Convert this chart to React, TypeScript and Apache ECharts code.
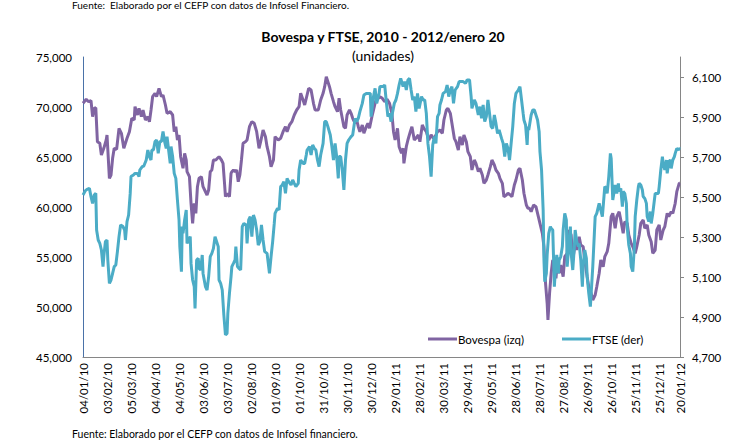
import React, { useEffect, useRef } from "react";
import * as echarts from "echarts";

// Day offsets counted from 04/01/2010
const bovespaDays = [
  0, 4, 7, 10, 12, 14, 16, 18, 21, 23, 26, 29, 30, 33, 35, 37, 39, 42, 45, 48, 51, 55, 58, 61, 64, 65, 68, 70, 73, 75, 78, 81, 83, 85, 87, 90, 92, 95, 98, 100,
  103, 105, 109, 112, 114, 116, 118, 120, 122, 125, 127, 129, 130, 133, 135, 137, 139, 141, 143, 145, 148, 150, 152, 155, 157, 159, 161, 163, 166, 168, 170, 173, 175, 177, 178, 180, 183, 185, 186,
  188, 190, 192, 194, 196, 198, 200, 203, 205, 208, 211, 214, 217, 220, 222, 225, 228, 230, 233, 235, 238, 240, 244, 247, 250, 253, 255, 258, 261, 264, 267, 270, 272, 275, 277, 280, 282, 285, 288,
  290, 294, 297, 300, 302, 304, 306, 308, 310, 313, 315, 318, 320, 322, 324, 326, 328, 330, 333, 335, 337, 340, 342, 344, 346, 349, 351, 354, 356, 358, 361, 364, 366, 369, 371,
  374, 377, 380, 383, 386, 388, 390, 393, 395, 398, 400, 401, 404, 406, 409, 411, 414, 416, 419, 421, 424, 426, 429, 432, 435, 438, 440, 443, 446, 449, 451, 454, 456, 459, 461, 464, 466, 469,
  471, 474, 476, 479, 481, 484, 486, 489, 491, 494, 496, 499, 501, 504, 506, 509, 511, 514, 516, 519, 521, 524, 526, 529, 531, 534, 536, 539, 541, 544, 546, 549, 551, 554, 556,
  558, 560, 563, 566, 569, 571, 574, 576, 578, 580, 581, 583, 585, 587, 589, 591, 593, 595, 597, 600, 602, 605, 607, 610, 612, 615, 617, 620, 622, 625, 627, 630, 632, 635, 637, 640, 642, 645,
  647, 650, 652, 655, 657, 660, 662, 665, 667, 670, 672, 675, 677, 680, 682, 685, 687, 690, 692, 695, 697, 700, 702, 705, 707, 710, 712, 715, 717, 720, 722, 725, 727, 730, 732, 735, 737, 740, 742, 745, 746,
];
const bovespaValues = [
  70370, 70770, 70530, 70630, 69030, 69870, 69930, 66530, 66370, 65200, 65870, 66700, 67200, 62870, 63200, 64870, 65870, 65770, 67870, 67370, 65870, 66870, 67530, 68870, 68700, 70030, 69200, 69870, 69030, 69700, 68700, 69030, 68530, 69700, 71030, 71370, 71030, 71870, 71030, 71200,
  70200, 69370, 69530, 69200, 67530, 68030, 66700, 67200, 65030, 63870, 65370, 64700, 63530, 63030, 60370, 58370, 60370, 59370, 62030, 62870, 63030, 62030, 61700, 61200, 61700, 63530, 63700, 64700, 64700, 64870, 65030, 64700, 64370, 62200, 61030, 61370, 61030, 63370, 63530,
  63700, 63530, 63700, 62530, 63200, 64700, 66370, 66530, 66700, 68030, 68530, 68370, 67530, 65870, 66530, 67700, 67030, 66030, 65030, 64030, 64700, 67030, 66700, 66870, 67530, 68030, 67530, 68200, 68530, 69200, 69700, 70030, 71370, 70700, 70200, 71200, 71870, 71700, 70370,
  69700, 69700, 70700, 71370, 72030, 73030, 72530, 72030, 71370, 70530, 70030, 69530, 70870, 69700, 68870, 68030, 67870, 69200, 69700, 69370, 68870, 68370, 68700, 68030, 67530, 68200, 67370, 68030, 68370, 67870, 69030, 70030, 70700, 70870, 71030,
  70870, 70530, 70770, 70370, 69370, 67530, 66700, 67870, 66030, 65370, 65870, 64370, 66030, 66700, 67530, 68030, 66700, 66870, 67200, 66530, 68200, 67870, 67530, 66700, 67200, 66870, 67030, 67530, 67700, 67370, 68700, 69700, 69870, 69370, 68370, 66870, 66530, 65700,
  67030, 66200, 67200, 66530, 65530, 65030, 63700, 64700, 64370, 63530, 63870, 63200, 62370, 62700, 63200, 64030, 64700, 64200, 63700, 63370, 62870, 62370, 61030, 61200, 61370, 61200, 61030, 62200, 62700, 63700, 63870, 62700, 61370, 60200, 59870,
  59870, 59530, 60200, 60030, 59030, 58370, 57370, 56030, 52370, 50370, 48700, 51370, 53370, 54700, 53700, 52870, 54700, 53370, 54200, 53030, 55030, 55370, 57700, 57200, 54700, 56370, 55700, 57030, 56200, 56030, 54700, 53030, 52030, 51370, 50700, 51200, 52030, 53370,
  54700, 54030, 55030, 55530, 56370, 59030, 59370, 57870, 59030, 59530, 58700, 57370, 58530, 58370, 57200, 56370, 56030, 55370, 56030, 57200, 58370, 58700, 57870, 58200, 57200, 56530, 55370, 55700, 57700, 58200, 56700, 57700, 58030, 59370, 59030, 59530, 59370, 60370, 61530, 62370, 62400,
];

const ftseDays = [
  0, 3, 5, 8, 10, 12, 14, 16, 17, 19, 21, 23, 25, 26, 28, 30, 31, 33, 35, 37, 39, 41, 43, 45, 47, 50, 52, 53, 55, 57, 59, 60, 63, 65, 68, 70, 71, 74, 76, 79, 81, 83, 85, 86, 88, 90, 92, 94, 96, 98,
  100, 102, 104, 105, 107, 109, 110, 112, 114, 116, 118, 120, 121, 123, 124, 125, 127, 129, 130, 132, 134, 135, 137, 139, 140, 142, 144, 145, 147, 149, 150, 153, 155, 157, 159, 161, 163, 165, 167, 169,
  170, 172, 174, 176, 178, 180, 181, 183, 185, 186,
  188, 190, 191, 193, 195, 197, 199, 201, 204, 205, 207, 209, 211, 213, 215, 217, 219, 221, 223, 225, 227, 230, 232, 233, 235, 237, 239, 240, 243, 245, 247, 249, 251, 253, 255, 257, 260, 262, 264, 266,
  269, 270, 272, 275, 277, 279, 280, 283, 285, 287, 289, 291, 293, 295, 297, 300, 302, 304, 306, 309, 311, 313, 315, 317, 319, 320, 322, 324, 326, 328, 330, 332, 335, 337, 340, 342, 344, 346, 349, 351,
  354, 356, 359, 360, 363, 365, 367, 370, 371,
  375, 377, 379, 381, 383, 385, 387, 389, 391, 393, 395, 397, 400, 402, 404, 406, 408, 410, 412, 414, 416, 418, 420, 423, 425, 427, 429, 431, 433, 435, 437, 439, 441, 443, 445, 446, 448, 450, 453, 455,
  457, 459, 461, 463, 465, 468, 470, 473, 475, 478, 480, 483, 485, 486, 489, 491, 494, 496, 498, 500, 502, 504, 506, 508, 510, 512, 514, 516, 518, 520, 523, 525, 527, 529, 531, 533, 535, 537, 539, 541,
  544, 546, 548, 550, 551, 553, 555, 556,
  557, 559, 560, 562, 564, 566, 568, 570, 571, 573, 575, 576, 577, 579, 580, 582, 584, 585, 587, 589, 590, 592, 594, 595, 597, 599, 600, 602, 604, 605, 607, 609, 610, 612, 614, 615, 617, 619, 620, 622,
  624, 625, 627, 629, 630, 632, 634, 635, 637, 639, 640, 642, 644, 645, 647, 649, 650, 652, 654, 655, 657, 659, 660, 662, 664, 665, 667, 669, 670, 672, 674, 675, 677, 679, 680, 682, 684, 685, 687, 689,
  690, 692, 694, 695, 697, 699, 700, 702, 704, 705, 707, 709, 710, 712, 714, 715, 717, 719, 720, 722, 724, 725, 727, 729, 730, 732, 734, 735, 737, 739, 740, 742, 744, 745, 746,
];
const ftseValues = [
  5510, 5532, 5538, 5543, 5502, 5468, 5510, 5518, 5335, 5285, 5268, 5235, 5152, 5202, 5277, 5285, 5185, 5068, 5085, 5118, 5152, 5160, 5227, 5302, 5360, 5352, 5335, 5285, 5377, 5410, 5518, 5602, 5610, 5618, 5618, 5602, 5635, 5652, 5655, 5685, 5735, 5702, 5685, 5735, 5735, 5777, 5785, 5718, 5777, 5777,
  5827, 5777, 5743, 5802, 5735, 5668, 5752, 5702, 5618, 5593, 5485, 5385, 5252, 5127, 5352, 5318, 5385, 5435, 5268, 5285, 5302, 5168, 5085, 5052, 4943, 5185, 5193, 5143, 5135, 5210, 5118, 5052, 5035, 5102, 5202, 5218, 5243, 5302, 5277, 5252,
  5085, 5068, 5035, 4910, 4810, 4818, 4918, 5018, 5102, 5152,
  5168, 5185, 5252, 5152, 5143, 5135, 5352, 5368, 5360, 5268, 5385, 5402, 5302, 5410, 5385, 5335, 5260, 5277, 5360, 5285, 5227, 5218, 5152, 5118, 5202, 5277, 5368, 5418, 5443, 5435, 5552, 5560, 5577, 5518, 5593, 5577, 5560, 5585, 5568, 5552,
  5568, 5635, 5685, 5668, 5668, 5710, 5735, 5752, 5710, 5760, 5743, 5735, 5685, 5652, 5710, 5768, 5877, 5877, 5852, 5810, 5752, 5685, 5768, 5702, 5593, 5702, 5702, 5635, 5535, 5685, 5768, 5785, 5802, 5810, 5893, 5877, 5893, 5927, 5968, 6010,
  6018, 6018, 6018, 5902, 6002, 6043, 5968, 6018, 6052,
  6052, 6060, 5977, 5902, 5918, 5877, 5927, 5968, 5985, 6018, 6060, 6093, 6052, 6077, 6035, 6085, 6093, 6035, 5985, 6002, 5927, 6018, 5943, 6002, 5985, 5985, 5918, 5768, 5702, 5602, 5760, 5802, 5768, 5902, 5918, 5960, 5985, 6018, 6027, 6060,
  6002, 6035, 6052, 5968, 6035, 6052, 6077, 6077, 6077, 6068, 6085, 6085, 6002, 5943, 5985, 5968, 5910, 5952, 5893, 5960, 5877, 5902, 5985, 5918, 5852, 5843, 5910, 5868, 5818, 5835, 5793, 5768, 5702, 5768, 5743, 5685, 5768, 5852, 5968, 6018,
  6035, 6052, 5985, 5918, 5885, 5860, 5760, 5852,
  5835, 5885, 5910, 5935, 5935, 5910, 5885, 5827, 5727, 5635, 5435, 5185, 5077, 5118, 5210, 5318, 5352, 5343, 5335, 5052, 5118, 5210, 5118, 5185, 5202, 5252, 5335, 5418, 5385, 5152, 5252, 5352, 5218, 5135, 5252, 5335, 5277, 5252, 5268, 5185,
  5052, 5152, 5235, 5193, 5102, 5018, 4952, 5018, 5152, 5318, 5402, 5418, 5452, 5468, 5435, 5402, 5452, 5552, 5543, 5518, 5602, 5718, 5693, 5485, 5535, 5560, 5518, 5568, 5527, 5543, 5452, 5527, 5518, 5468, 5352, 5260, 5218, 5152, 5127, 5252,
  5402, 5485, 5552, 5568, 5560, 5535, 5502, 5493, 5468, 5402, 5377, 5427, 5368, 5418, 5485, 5518, 5518, 5518, 5552, 5635, 5702, 5668, 5635, 5685, 5618, 5677, 5685, 5643, 5685, 5702, 5718, 5743, 5735, 5743, 5740,
];

const tickDays = [0, 30, 60, 90, 120, 150, 180, 210, 240, 270, 300, 330, 360, 390, 420, 450, 480, 510, 540, 570, 600, 630, 660, 690, 720, 746];
const tickLabels = [
  "04/01/10", "03/02/10", "05/03/10", "04/04/10", "04/05/10", "03/06/10", "03/07/10", "02/08/10", "01/09/10", "01/10/10", "31/10/10", "30/11/10", "30/12/10",
  "29/01/11", "28/02/11", "30/03/11", "29/04/11", "29/05/11", "28/06/11", "28/07/11", "27/08/11", "26/09/11", "26/10/11", "25/11/11", "25/12/11", "20/01/12",
];

const FONT = "Lato, 'Open Sans', sans-serif";

export default function App() {
  const ref = useRef<HTMLDivElement>(null);
  useEffect(() => {
    if (!ref.current) return;
    const chart = echarts.init(ref.current, null, { renderer: "svg" });
    const fmt = (v: number) => v.toLocaleString("en-US");
    chart.setOption({
      animation: false,
      backgroundColor: "#ffffff",
      textStyle: { fontFamily: FONT },
      grid: { left: 83, right: 75, top: 57, bottom: 83, containLabel: false },
      title: [
        {
          text: "Bovespa y FTSE, 2010 - 2012/enero 20",
          left: 378,
          top: 24,
          textAlign: "center",
          textStyle: { fontFamily: FONT, fontSize: 14, fontWeight: "bold", color: "#000" },
        },
        {
          text: "(unidades)",
          left: 378,
          top: 43,
          textAlign: "center",
          textStyle: { fontFamily: FONT, fontSize: 14, fontWeight: "normal", color: "#000" },
        },
      ],
      graphic: [
        {
          type: "text",
          left: 72,
          top: 0,
          style: { text: "Fuente:  Elaborado por el CEFP con datos de Infosel Financiero.", fontFamily: FONT, fontSize: 10, fill: "#000" },
        },
        {
          type: "text",
          left: 72,
          top: 428,
          style: { text: "Fuente: Elaborado por el CEFP con datos de Infosel financiero.", fontFamily: FONT, fontSize: 10.5, fill: "#000" },
        },
      ],
      legend: {
        left: 423,
        top: 328,
        itemWidth: 29,
        itemHeight: 3,
        itemGap: 38,
        icon: "rect",
        textStyle: { fontFamily: FONT, fontSize: 11.5, color: "#000", padding: [0, 0, 0, -4] },
        data: ["Bovespa (izq)", "FTSE (der)"],
      },
      xAxis: {
        type: "value",
        min: 0,
        max: 746,
        splitLine: { show: false },
        axisLine: { show: true, lineStyle: { color: "#868686", width: 1 } },
        axisTick: { show: false },
        axisLabel: {
          customValues: tickDays,
          rotate: 90,
          margin: 6,
          fontFamily: FONT,
          fontSize: 11.5,
          color: "#000",
          formatter: (v: number) => {
            const i = tickDays.indexOf(Math.round(v));
            return i >= 0 ? tickLabels[i] : "";
          },
        },
      },
      yAxis: [
        {
          type: "value",
          min: 45000,
          max: 75000,
          interval: 5000,
          splitLine: { show: false },
          axisLine: { show: true, lineStyle: { color: "#4a72a8", width: 1 } },
          axisTick: { show: false },
          axisLabel: { margin: 11, fontFamily: FONT, fontSize: 11.5, color: "#000", formatter: fmt },
        },
        {
          type: "value",
          min: 4700,
          max: 6200,
          interval: 200,
          position: "right",
          splitLine: { show: false },
          axisLine: { show: true, lineStyle: { color: "#868686", width: 1 } },
          axisTick: { show: true, length: 4, lineStyle: { color: "#868686" } },
          axisLabel: {
            margin: 12,
            fontFamily: FONT,
            fontSize: 11.5,
            color: "#000",
            showMaxLabel: false,
            formatter: (v: number) => (v > 6150 ? "" : fmt(v)),
          },
        },
      ],
      series: [
        {
          name: "Bovespa (izq)",
          type: "line",
          yAxisIndex: 0,
          showSymbol: false,
          color: "#8064a2",
          lineStyle: { width: 3, color: "#8064a2" },
          data: bovespaDays.map((d, i) => [d, bovespaValues[i]]),
        },
        {
          name: "FTSE (der)",
          type: "line",
          yAxisIndex: 1,
          showSymbol: false,
          color: "#4bacc6",
          lineStyle: { width: 3, color: "#4bacc6" },
          data: ftseDays.map((d, i) => [d, ftseValues[i]]),
        },
      ],
    });
    return () => chart.dispose();
  }, []);
  return <div ref={ref} style={{ width: 755, height: 440, position: "absolute", left: 0, top: 0 }} />;
}
